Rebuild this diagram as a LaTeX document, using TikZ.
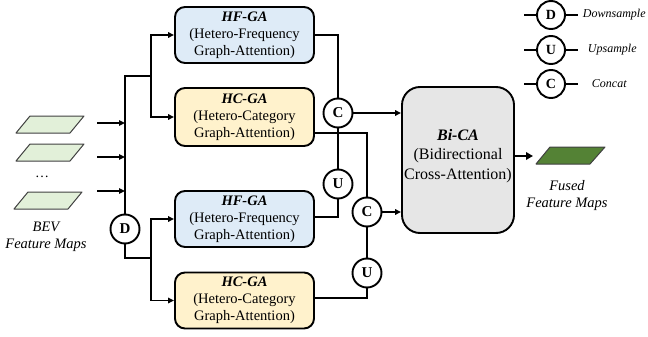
\documentclass[tikz,border=0pt]{standalone}
\usepackage{fontspec}
\setmainfont{Liberation Serif}
\usetikzlibrary{arrows.meta}
\definecolor{hfblue}{HTML}{DEEBF7}
\definecolor{hcyellow}{HTML}{FFF2CC}
\definecolor{bicagray}{HTML}{E6E6E6}
\definecolor{lightgreen}{HTML}{E2F0D9}
\definecolor{darkgreen}{HTML}{548235}
\begin{document}
\begin{tikzpicture}[x=1pt,y=-1pt, line width=1.9pt,
  blk/.style={draw, rounded corners=10pt, minimum width=139pt, minimum height=56pt, align=center, font=\fontsize{14.5}{17}\selectfont, inner sep=0pt},
  hfs/.style={blk, fill=hfblue},
  hcs/.style={blk, fill=hcyellow},
  op/.style={draw, circle, minimum size=29pt, inner sep=0pt, font=\fontsize{15}{15}\selectfont\bfseries, fill=white},
  lop/.style={op, minimum size=28pt, font=\fontsize{14}{14}\selectfont\bfseries},
  arr/.style={-{Triangle[length=6pt,width=5.5pt]}},
  lbl/.style={font=\fontsize{14.5}{17}\selectfont\itshape, align=center},
  leg/.style={anchor=west, font=\fontsize{12}{12}\selectfont\itshape},
  pgram/.style={draw=black!75, line width=1pt, line join=round},
]
\useasboundingbox (0,0) rectangle (648,337);

% feature map parallelograms
\draw[pgram, fill=lightgreen] (16,133) -- (70,133) -- (84,116) -- (30,116) -- cycle;
\draw[pgram, fill=lightgreen] (16,161) -- (70,161) -- (84,144) -- (30,144) -- cycle;
\draw[pgram, fill=lightgreen] (14,209) -- (68,209) -- (82,192) -- (28,192) -- cycle;
\node (dots) at (42,177) {\fontsize{14}{14}\selectfont …};
\node[lbl] (bev) at (46,236.5) {BEV\\Feature Maps};

% blocks
\node[hfs] (hf1) at (244.5,35) {\textbf{\textit{HF-GA}}\\(Hetero-Frequency\\Graph-Attention)};
\node[hcs, minimum height=58pt] (hc1) at (244.5,117) {\textbf{\textit{HC-GA}}\\(Hetero-Category\\Graph-Attention)};
\node[hfs] (hf2) at (244.5,219) {\textbf{\textit{HF-GA}}\\(Hetero-Frequency\\Graph-Attention)};
\node[hcs] (hc2) at (244.5,300.5) {\textbf{\textit{HC-GA}}\\(Hetero-Category\\Graph-Attention)};
\node[draw, fill=bicagray, rounded corners=18pt, minimum width=112pt, minimum height=146pt, inner sep=0pt] (bica) at (458,160) {};
\node[align=center, font=\fontsize{16}{19.5}\selectfont] (bicat) at (458,156) {\textbf{\textit{Bi-CA}}\\(Bidirectional\\Cross-Attention)};

% operators
\node[op] (c1) at (338,113) {C};
\node[op] (u1) at (338,184) {U};
\node[op] (c2) at (367,212) {C};
\node[op] (u2) at (367,273) {U};
\node[op] (d) at (125,229) {D};

% inputs
\coordinate (t1) at (125,76);
\coordinate (b1) at (151,76);
\coordinate (b2) at (151,258);
\coordinate (i1) at (97,123);
\coordinate (i2) at (97,157);
\coordinate (i3) at (97,191);
\draw[arr] (i1) -- (i1 -| t1);
\draw[arr] (i2) -- (i2 -| t1);
\draw[arr] (i3) -- (i3 -| t1);
\draw (d.north) -- (t1) -- (b1);
\draw[arr] (b1) |- (hf1.west);
\draw[arr] (b1) |- (hc1.west);
\draw (d.south) |- (b2);
\draw[arr] (b2) |- (hf2.west);
\draw[arr] (b2) |- (hc2.west);

% outputs of blocks
\draw (hf1.east) -| (c1.north);
\draw ([yshift=-16pt]hc1.east) -| (c2.north);
\draw ([yshift=2pt]hf2.east) -| (u1.south);
\draw ([yshift=2.5pt]hc2.east) -| (u2.south);
\draw (u1.north) -- (c1.south);
\draw (u2.north) -- (c2.south);
\draw[arr] (c1.east) -- (c1.east -| bica.west);
\draw[arr] (c2.east) -- (c2.east -| bica.west);

% fused output
\coordinate (fo) at (533,156);
\draw[line width=2.4pt, -{Triangle[length=7pt,width=7.5pt]}] (bica.east |- fo) -- (fo);
\draw[pgram, fill=darkgreen] (536,164) -- (590,164) -- (605,147) -- (550,147) -- cycle;
\node[lbl] (fused) at (567,195.5) {Fused\\Feature Maps};

% legend
\node[lop] (ld) at (551,15) {D};
\node[lop] (lu) at (551,50) {U};
\node[lop] (lc) at (551,84) {C};
\foreach \n in {ld,lu,lc}{
  \draw[line width=1.1pt] (\n.west) -- ++(-12,0);
  \draw[line width=1.1pt] (\n.east) -- ++(12,0);
}
\node[leg, inner sep=0pt] (ldt) at (582,15) {Downsample};
\node[leg, inner sep=0pt] (lut) at (587,50) {Upsample};
\node[leg, inner sep=0pt] (lct) at (591,84) {Concat};
\end{tikzpicture}
\end{document}
